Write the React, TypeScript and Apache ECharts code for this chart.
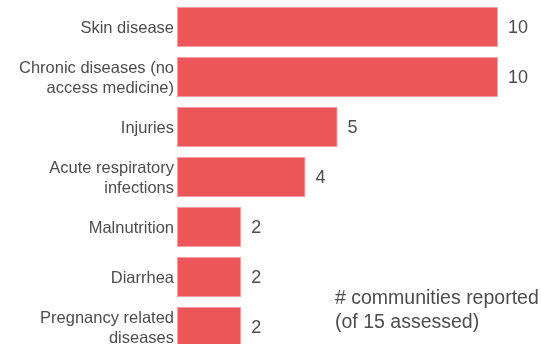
import React, { useEffect, useRef } from "react";
import * as echarts from "echarts";

const categories = [
  "Skin disease",
  "Chronic diseases (no\naccess medicine)",
  "Injuries",
  "Acute respiratory\ninfections",
  "Malnutrition",
  "Diarrhea",
  "Pregnancy related\ndiseases",
];
const values = [10, 10, 5, 4, 2, 2, 2];
const noteLines = ["# communities reported", "(of 15 assessed)"];

export default function App() {
  const ref = useRef<HTMLDivElement>(null);
  useEffect(() => {
    if (!ref.current) return;
    const chart = echarts.init(ref.current, undefined, { renderer: "svg" });
    const font = "'Liberation Sans', Arial, sans-serif";
    chart.setOption({
      animation: false,
      grid: {
        left: 177,
        top: 2,
        width: 321,
        height: 350,
        outerBoundsMode: "none",
        containLabel: false,
      },
      xAxis: {
        type: "value",
        min: 0,
        max: 10,
        show: false,
      },
      yAxis: {
        type: "category",
        data: categories,
        inverse: true,
        axisLine: { show: false },
        axisTick: { show: false },
        axisLabel: {
          margin: 3,
          fontSize: 16.5,
          lineHeight: 20,
          color: "#4d4d4d",
          fontFamily: font,
          align: "right",
        },
      },
      series: [
        {
          type: "bar",
          data: values,
          barCategoryGap: "20%",
          itemStyle: {
            color: "#ec5658",
            borderColor: "#f3a0a0",
            borderWidth: 1,
          },
          label: {
            show: true,
            position: "right",
            distance: 10,
            fontSize: 18,
            color: "#4d4d4d",
            fontFamily: font,
          },
        },
      ],
      graphic: [
        {
          type: "text",
          left: 335,
          top: 285,
          style: {
            text: noteLines.join("\n"),
            fontSize: 19.5,
            lineHeight: 24,
            fill: "#4d4d4d",
            fontFamily: font,
          },
        },
      ],
    });
    return () => chart.dispose();
  }, []);
  return (
    <div
      ref={ref}
      style={{ position: "fixed", left: 0, top: 0, width: 541, height: 344 }}
    />
  );
}
